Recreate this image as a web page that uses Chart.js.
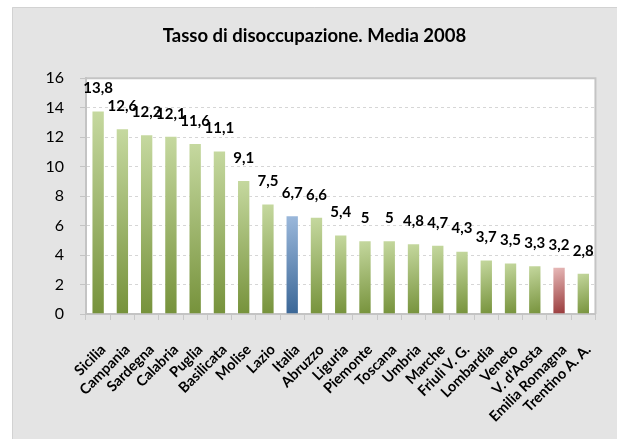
<!DOCTYPE html>
<html>
<head>
<meta charset="utf-8">
<script src="https://cdn.jsdelivr.net/npm/chart.js@4"></script>
<style>
  html, body { margin: 0; padding: 0; background: #fff; }
  #wrap { width: 617px; height: 439px; }
</style>
</head>
<body>
<div id="wrap"><canvas id="chart" width="617" height="439"></canvas></div>
<script>
// --- DATA ---
const regions = ['Sicilia', 'Campania', 'Sardegna', 'Calabria', 'Puglia', 'Basilicata', 'Molise', 'Lazio',
  'Italia', 'Abruzzo', 'Liguria', 'Piemonte', 'Toscana', 'Umbria', 'Marche', 'Friuli V. G.',
  'Lombardia', 'Veneto', "V. d'Aosta", 'Emilia Romagna', 'Trentino A. A.'];
const rates = [13.8, 12.6, 12.2, 12.1, 11.6, 11.1, 9.1, 7.5, 6.7, 6.6, 5.4, 5, 5, 4.8, 4.7, 4.3, 3.7, 3.5, 3.3, 3.2, 2.8];
const yTicks = [0, 2, 4, 6, 8, 10, 12, 14, 16];

// gradient colours: [light, dark]
const GREEN = ['#c6d9a0', '#76923b'];
const BLUE = ['#9cb9dc', '#3a6696'];
const RED = ['#e9bcbb', '#98393a'];

function barColor(ctx) {
    const chart = ctx.chart;
    const name = regions[ctx.dataIndex];
    const pair = name === 'Italia' ? BLUE : (name === 'Emilia Romagna' ? RED : GREEN);
    const xs = chart.scales.x, ys = chart.scales.y;
    if (!xs || !ys) return pair[1];
    const cx = xs.getPixelForValue(ctx.dataIndex);
    const top = ys.getPixelForValue(rates[ctx.dataIndex]);
    const bottom = ys.getPixelForValue(0);
    if (![cx, top, bottom].every(Number.isFinite)) return pair[1];
    const g = chart.ctx.createLinearGradient(cx - 7, top, cx + 7, bottom);
    g.addColorStop(0, pair[0]);
    g.addColorStop(1, pair[1]);
    return g;
}

const backgroundPlugin = {
    id: 'bgFrame',
    beforeDraw(chart) {
        const c = chart.ctx;
        c.save();
        c.fillStyle = '#e4e4e4';
        c.fillRect(12, 7, chart.width - 12, chart.height - 7);
        c.strokeStyle = '#d2d2d2';
        c.lineWidth = 1;
        c.beginPath();
        c.moveTo(12.5, chart.height);
        c.lineTo(12.5, 7.5);
        c.lineTo(chart.width, 7.5);
        c.stroke();
        const a = chart.chartArea;
        c.fillStyle = '#ffffff';
        c.fillRect(a.left, a.top, a.right - a.left, a.bottom - a.top);
        c.restore();
    },
    afterDraw(chart) {
        const c = chart.ctx;
        const a = chart.chartArea;
        c.save();
        c.strokeStyle = '#c4c4c4';
        c.lineWidth = 2;
        c.beginPath();
        c.moveTo(a.left, a.top);
        c.lineTo(a.right, a.top);
        c.lineTo(a.right, a.bottom);
        c.stroke();
        c.restore();
    }
};

const valueLabels = {
    id: 'valueLabels',
    afterDatasetsDraw(chart) {
        const c = chart.ctx;
        const meta = chart.getDatasetMeta(0);
        c.save();
        c.font = 'bold 15px Lato, sans-serif';
        c.fillStyle = '#000';
        c.textAlign = 'center';
        c.textBaseline = 'middle';
        meta.data.forEach((bar, i) => {
            c.fillText(String(rates[i]).replace('.', ','), bar.x, bar.y - 22);
        });
        c.restore();
    }
};

new Chart(document.getElementById('chart'), {
    type: 'bar',
    data: {
        labels: regions,
        datasets: [{
            data: rates,
            backgroundColor: barColor,
            borderColor: 'rgba(255,255,255,0.6)',
            borderWidth: 1,
            barPercentage: 0.55,
            categoryPercentage: 1
        }]
    },
    plugins: [backgroundPlugin, valueLabels],
    options: {
        responsive: false,
        animation: false,
        layout: { padding: { left: 28, right: 16, top: 8, bottom: 3 } },
        plugins: {
            legend: { display: false },
            tooltip: { enabled: false },
            title: {
                display: true,
                text: 'Tasso di disoccupazione. Media 2008',
                color: '#000',
                font: { family: 'Lato, sans-serif', size: 18.5, weight: 'bold' },
                padding: { top: 17, bottom: 31 }
            }
        },
        scales: {
            x: {
                afterFit(axis) { axis.height = 122; },
                grid: {
                    offset: true,
                    drawOnChartArea: false,
                    color: '#c8c8c8',
                    tickLength: 6
                },
                border: { color: '#c4c4c4', width: 2 },
                ticks: {
                    color: '#000',
                    maxRotation: 45,
                    minRotation: 45,
                    autoSkip: false,
                    padding: 21,
                    labelOffset: 5,
                    font: { family: 'Lato, sans-serif', size: 14.5, weight: 'bold' }
                }
            },
            y: {
                min: 0,
                max: 16,
                afterFit(axis) { axis.width = 58; },
                afterBuildTicks(axis) {
                    axis.ticks = yTicks.map(v => ({ value: v }));
                },
                grid: {
                    color: (ctx) => (ctx.tick && ctx.tick.value === 0) ? 'rgba(0,0,0,0)' : '#d6d6d6',
                    tickColor: '#c4c4c4',
                    tickLength: 6,
                    tickBorderDash: [0, 0]
                },
                border: { color: '#c4c4c4', width: 2, dash: [3, 3] },
                ticks: {
                    color: '#000',
                    padding: 16,
                    font: { family: 'Lato, sans-serif', size: 16 }
                }
            }
        }
    }
});
</script>
</body>
</html>
